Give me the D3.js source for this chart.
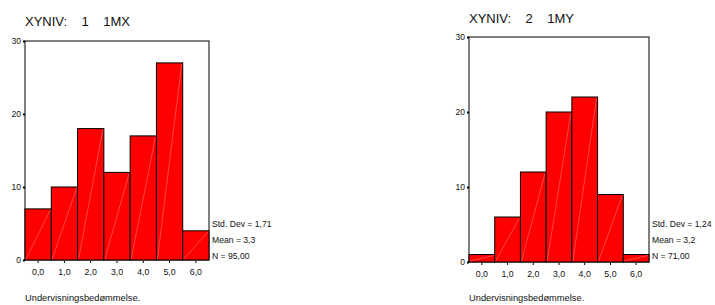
<!DOCTYPE html>
<html lang="da">
<head>
  <meta charset="UTF-8">
  <title>Undervisningsbedømmelse histogrammer</title>
  <style>
    body {
      margin: 0;
      background: #fff;
      font-family: Arial, "Liberation Sans", sans-serif;
    }
    svg text { fill: #111; }
  </style>
</head>
<body>
  <svg id="chart" width="715" height="305"></svg>
  <script src="https://d3js.org/d3.v7.min.js"></script>
  <script>
    // histogram bins (bin centres 0..6)
    const binLabels = ['0,0', '1,0', '2,0', '3,0', '4,0', '5,0', '6,0'];
    const yTicks = [0, 10, 20, 30];

    const countsMX = [7, 10, 18, 12, 17, 27, 4];
    const countsMY = [1, 6, 12, 20, 22, 9, 1];

    const titles = ['XYNIV:    1    1MX', 'XYNIV:    2    1MY'];
    const statsMX = ['Std. Dev = 1,71', 'Mean = 3,3', 'N = 95,00'];
    const statsMY = ['Std. Dev = 1,24', 'Mean = 3,2', 'N = 71,00'];
    const xTitle = 'Undervisningsbedømmelse.';

    const font = 'Arial, "Liberation Sans", sans-serif';
    const svg = d3.select('#chart');

    function drawPanel(opts) {
      const { left, right, top, bottom, counts, title, stats, titleY, statY } = opts;
      const g = svg.append('g');

      const x = d3.scaleBand()
        .domain(binLabels)
        .range([left, right])
        .padding(0);

      const y = d3.scaleLinear()
        .domain([0, 30])
        .range([bottom, top]);

      // frame
      g.append('rect')
        .attr('x', left)
        .attr('y', top)
        .attr('width', right - left)
        .attr('height', bottom - top)
        .attr('fill', 'none')
        .attr('stroke', '#000')
        .attr('stroke-width', 1);

      // bars
      const bars = g.selectAll('.bar')
        .data(counts)
        .enter()
        .append('g');

      bars.append('rect')
        .attr('x', (d, i) => x(binLabels[i]))
        .attr('y', d => y(d))
        .attr('width', x.bandwidth())
        .attr('height', d => y(0) - y(d))
        .attr('fill', '#ff0000')
        .attr('stroke', '#000')
        .attr('stroke-width', 1);

      // faint diagonal seam inside each bar
      bars.append('line')
        .attr('x1', (d, i) => x(binLabels[i]) + 1)
        .attr('y1', y(0) - 1)
        .attr('x2', (d, i) => x(binLabels[i]) + x.bandwidth() - 1)
        .attr('y2', d => y(d) + 1)
        .attr('stroke', '#ff8c8c')
        .attr('stroke-width', 0.5);

      // y axis
      const yAxis = g.append('g')
        .attr('transform', `translate(${left},0)`)
        .call(d3.axisLeft(y).tickValues(yTicks).tickSize(2).tickSizeOuter(0));
      yAxis.select('.domain').remove();
      yAxis.selectAll('line').attr('stroke', '#000').attr('stroke-width', 2);
      yAxis.selectAll('text')
        .attr('font-size', 8.5)
        .attr('font-family', font)
        .attr('fill', '#111')
        .attr('x', -4);

      // x axis
      const xAxis = g.append('g')
        .attr('transform', `translate(0,${bottom})`)
        .call(d3.axisBottom(x).tickSize(2).tickSizeOuter(0));
      xAxis.select('.domain').remove();
      xAxis.selectAll('line').attr('stroke', '#000').attr('stroke-width', 1).attr('y1', 1).attr('y2', 3);
      xAxis.selectAll('text')
        .attr('font-size', 8.8)
        .attr('font-family', font)
        .attr('fill', '#111')
        .attr('y', 9);

      // title
      g.append('text')
        .attr('x', left)
        .attr('y', titleY)
        .attr('font-size', 13)
        .style('white-space', 'pre')
        .text(title);

      // stats
      g.selectAll('.stat')
        .data(stats)
        .enter()
        .append('text')
        .attr('x', right + 3)
        .attr('y', (d, i) => statY + i * 16)
        .attr('font-size', 8.6)
        .text(d => d);

      // x title
      g.append('text')
        .attr('x', left)
        .attr('y', 301)
        .attr('font-size', 9.3)
        .text(xTitle);
    }

    drawPanel({
      left: 25, right: 209, top: 41, bottom: 260,
      counts: countsMX, title: titles[0], stats: statsMX, titleY: 26, statY: 226.5
    });

    drawPanel({
      left: 469, right: 649, top: 37, bottom: 262,
      counts: countsMY, title: titles[1], stats: statsMY, titleY: 22.5, statY: 227
    });
  </script>
</body>
</html>
